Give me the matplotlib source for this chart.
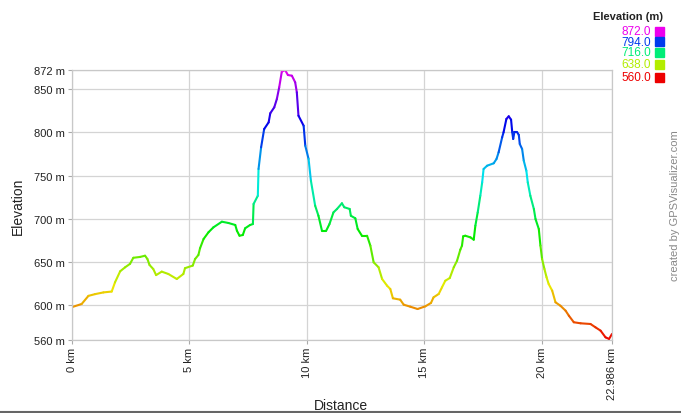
import colorsys
import matplotlib
matplotlib.use('Agg')
import matplotlib.pyplot as plt
import numpy as np
from matplotlib.collections import LineCollection
from matplotlib.lines import Line2D

plt.rcParams['font.family'] = ['Liberation Sans', 'DejaVu Sans']

# Profile
dist_km = [0, 0.41, 0.7, 0.98, 1.34, 1.69, 1.83, 2.05, 2.26, 2.47,
           2.61, 2.9, 3.11, 3.21, 3.3, 3.46, 3.58, 3.82, 4.1, 4.46,
           4.74, 4.81, 5.14, 5.24, 5.38, 5.45, 5.6, 5.81, 6.02, 6.38,
           6.66, 6.95, 7.02, 7.13, 7.27, 7.37, 7.58, 7.7, 7.73, 7.91,
           7.94, 8.05, 8.18, 8.37, 8.44, 8.61, 8.72, 8.82, 8.93, 9.07,
           9.19, 9.36, 9.5, 9.57, 9.64, 9.86, 9.93, 10.07, 10.17, 10.35,
           10.49, 10.64, 10.82, 10.96, 11.13, 11.28, 11.49, 11.59, 11.82, 11.87,
           12.06, 12.16, 12.34, 12.56, 12.7, 12.84, 13.05, 13.2, 13.41, 13.55,
           13.66, 13.97, 14.12, 14.4, 14.71, 15.04, 15.28, 15.39, 15.61, 15.75,
           15.89, 16.08, 16.25, 16.39, 16.53, 16.6, 16.65, 16.74, 16.96, 17.1,
           17.17, 17.27, 17.38, 17.46, 17.52, 17.67, 17.95, 18.07, 18.16, 18.31,
           18.37, 18.49, 18.59, 18.69, 18.74, 18.78, 18.83, 18.95, 19.02, 19.06,
           19.16, 19.23, 19.34, 19.4, 19.51, 19.66, 19.73, 19.87, 19.94, 20.01,
           20.11, 20.2, 20.29, 20.44, 20.58, 20.79, 21.01, 21.15, 21.36, 21.65,
           22.07, 22.28, 22.5, 22.71, 22.86, 22.986]
elev_m = [598, 601.6, 611, 613, 615, 616, 626.6, 639.4, 644, 648,
          655, 656, 657.4, 653.6, 646.7, 642, 635, 639, 636.3, 630.5,
          636.3, 643, 646, 653.6, 658.2, 666, 676.7, 684.5, 690.2, 696.7,
          695.2, 692.9, 686.3, 680.5, 681.3, 689.1, 692.9, 694, 717.2, 726.7,
          757.6, 782.7, 803.8, 811.5, 822, 828.9, 838.5, 852, 870, 872,
          866.2, 865.4, 857.8, 846.2, 819.2, 807.6, 784.5, 769.2, 744, 715.2,
          703.6, 686.3, 686.3, 694, 707.5, 711.4, 718, 713.4, 711.4, 703.6,
          700.6, 688.3, 680.5, 680.5, 669, 649.8, 644, 630.5, 622.8, 618.9,
          608.2, 606.6, 600.8, 598.5, 595.8, 598.9, 602.8, 609.3, 613.2, 620.9,
          628.5, 631.6, 644, 651.6, 664.4, 669, 679.8, 680.5, 678.6, 675.9,
          692.1, 707.5, 726.7, 742.2, 757.6, 761.4, 764.2, 769.2, 776.9, 794.2,
          800, 815.4, 818.5, 814.6, 800, 792.3, 800, 800, 796.9, 786.5,
          780.7, 767.2, 755.6, 742.2, 726.7, 711.4, 699.8, 688.3, 669, 653.6,
          642, 632.5, 624.7, 617, 603.6, 599.6, 593.9, 588.1, 580.5, 579.3,
          578.5, 574.7, 570.8, 563.1, 561.2, 567]

y_ticks = [560, 600, 650, 700, 750, 800, 850, 872]
x_ticks = [0, 5, 10, 15, 20, 22.986]
x_labels = ['0 km', '5 km', '10 km', '15 km', '20 km', '22.986 km']
legend_vals = [872.0, 794.0, 716.0, 638.0, 560.0]

e_min, e_max = 560, 872


def elev_color(e, v=0.92):
    # red -> magenta along the hue wheel
    h = (e - e_min) / (e_max - e_min) * 300 / 360
    return colorsys.hsv_to_rgb(h, 1.0, v)


W, H = 681, 414
fig = plt.figure(figsize=(W / 100, H / 100), dpi=100)
ax = fig.add_axes([72 / W, 1 - 341 / H, 540 / W, 270 / H])

x = np.array(dist_km)
y = np.array(elev_m)
pts = np.column_stack([x, y]).reshape(-1, 1, 2)
segs = np.concatenate([pts[:-1], pts[1:]], axis=1)
cols = [elev_color((a + b) / 2) for a, b in zip(y[:-1], y[1:])]
lc = LineCollection(segs, colors=cols, linewidths=1.5, capstyle='round', joinstyle='round')
ax.add_collection(lc)

ax.set_xlim(0, 22.986)
ax.set_ylim(e_min, e_max)
ax.set_xticks(x_ticks)
ax.set_xticklabels(x_labels, rotation=90, fontsize=8, color='#222222')
ax.set_yticks(y_ticks)
ax.set_yticklabels([f'{t} m' for t in y_ticks], fontsize=8, color='#222222')
ax.grid(True, color='#d4d4d4', linewidth=0.9)
ax.set_axisbelow(True)
for s in ax.spines.values():
    s.set_color('#c8c8c8')
    s.set_linewidth(0.9)
ax.tick_params(axis='both', length=3, width=0.8, color='#aaaaaa', pad=2)

fig.text(341 / W, 1 - 406 / H, 'Distance', fontsize=10, color='#222222',
         ha='center', va='center')
fig.text(18 / W, 1 - 206 / H, 'Elevation', fontsize=10, color='#222222',
         rotation=90, ha='center', va='center')

# legend, top right
fig.text(663 / W, 1 - 17 / H, 'Elevation (m)', fontsize=8, fontweight='bold',
         color='#222222', ha='right', va='center')
rows_y = [32, 42.5, 53, 65, 78]
for val, ry in zip(legend_vals, rows_y):
    c = elev_color(val, v=0.93)
    fig.text(651 / W, 1 - ry / H, f'{val:.1f}', fontsize=8.5, color=c,
             ha='right', va='center')
    fig.patches.append(plt.Rectangle((655 / W, 1 - (ry + 4.5) / H), 9 / W, 9 / H,
                                     transform=fig.transFigure, color=c))

fig.text(675.5 / W, 1 - 206 / H, 'created by GPSVisualizer.com', fontsize=8,
         color='#888888', rotation=90, ha='center', va='center')

fig.add_artist(Line2D([0, 1], [1 - 412.5 / H] * 2, transform=fig.transFigure,
                      color='#666666', linewidth=1.5))

fig.savefig('out.png', dpi=100, facecolor='white')
